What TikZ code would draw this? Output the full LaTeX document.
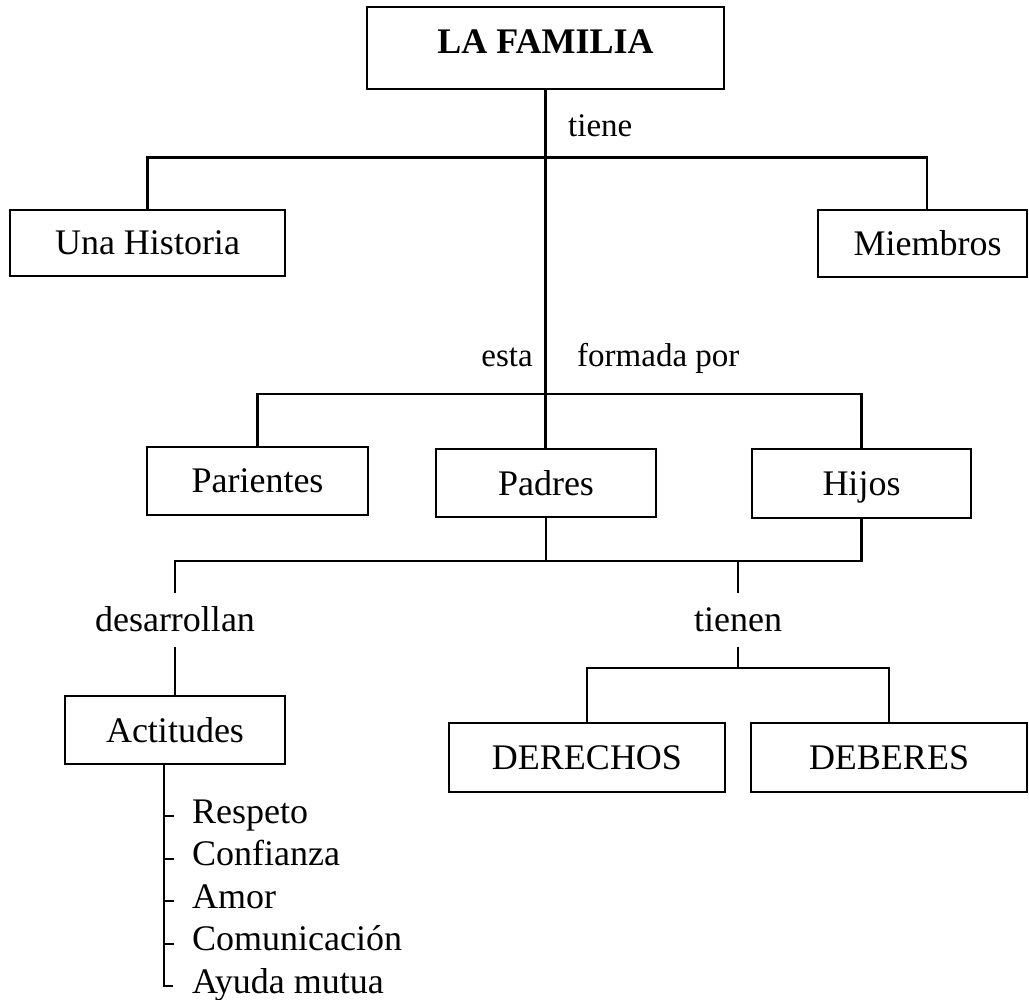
\documentclass[tikz,border=0pt]{standalone}
\usepackage{fontspec}
\setmainfont{Liberation Serif}
\begin{document}
\begin{tikzpicture}[x=1pt,y=-1pt,
  conn/.style={line width=2.1pt},
  tick/.style={line width=2pt},
  box/.style={draw,line width=2.5pt,inner sep=0pt,font=\fontsize{36}{43}\selectfont,text height=24pt,text depth=0pt,align=center},
  lbl/.style={inner sep=0pt,font=\fontsize{33}{40}\selectfont},
  lblb/.style={inner sep=0pt,font=\fontsize{36}{43}\selectfont},
]
\useasboundingbox (0,0) rectangle (1029,1000);
% boxes
\node[box,minimum width=357pt,minimum height=82pt,text depth=12pt,font=\fontsize{36}{43}\selectfont\bfseries] (fam) at (545.5,48) {LA FAMILIA};
\node[box,minimum width=275pt,minimum height=66pt] (hist) at (147.5,243) {Una Historia};
\node[box,minimum width=209pt,minimum height=67pt] (miem) at (922.5,243.5) {\hspace*{10pt}Miembros};
\node[box,minimum width=221pt,minimum height=68pt] (par) at (257.5,481) {Parientes};
\node[box,minimum width=220pt,minimum height=68pt] (pad) at (546,483) {Padres};
\node[box,minimum width=219pt,minimum height=69pt] (hij) at (861.5,483.5) {Hijos};
\node[box,minimum width=220pt,minimum height=68pt] (act) at (175,730) {Actitudes};
\node[box,minimum width=276pt,minimum height=69pt] (der) at (587,757.5) {DERECHOS};
\node[box,minimum width=276pt,minimum height=69pt] (deb) at (889,757.5) {DEBERES};
% labels
\node[lbl,anchor=base west] (tiene) at (568,137) {tiene};
\node[lbl,anchor=base east] (esta) at (533,367) {esta};
\node[lbl,anchor=base west] (formada) at (577,367) {formada por};
\node[lblb,anchor=base] (desa) at (175,631) {desarrollan};
\node[lblb,anchor=base] (tienen) at (738,631) {tienen};
% list
\node[lblb,anchor=base west] (i1) at (192,823) {Respeto};
\node[lblb,anchor=base west] (i2) at (192,865.5) {Confianza};
\node[lblb,anchor=base west] (i3) at (192,908) {Amor};
\node[lblb,anchor=base west] (i4) at (192,950.5) {Comunicación};
\node[lblb,anchor=base west] (i5) at (192,993) {Ayuda mutua};
% coordinates
\coordinate (j1) at (546,157.5);
\coordinate (mtop) at (927,210);
\coordinate (j2) at (546,394);
\coordinate (j3) at (546,561);
\coordinate (d1) at (175,593);
\coordinate (d2) at (175,647);
\coordinate (t1) at (738,561);
\coordinate (t2) at (738,593);
\coordinate (t3) at (738,647);
\coordinate (t4) at (738,668);
\coordinate (b0) at (164,764);
\coordinate (b1) at (164,986);
\coordinate (b2) at (173,986);
% connectors
\draw[conn] (fam.south) -- (fam.south |- pad.north);
\draw[conn] (hist.north) |- (j1) -| (mtop);
\draw[conn] (par.north) |- (j2) -| (hij.north);
\draw[conn] (pad.south) -- (j3);
\draw[conn] (d1) |- (j3) -| (hij.south);
\draw[conn] (t1) -- (t2);
\draw[conn] (d2) -- (act.north);
\draw[conn] (t3) -- (t4);
\draw[conn] (der.north) |- (t4) -| (deb.north);
\draw[conn] (b0) -- (b1) -- (b2);
\foreach \y in {816,858.5,901,943.5}
  \draw[tick] (164,\y) -- (174,\y);
\end{tikzpicture}
\end{document}
